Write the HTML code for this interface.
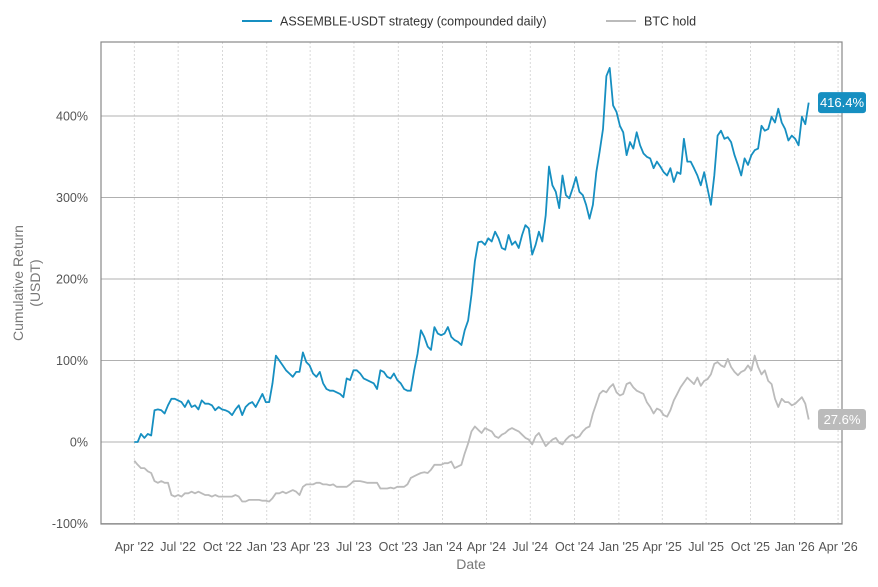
<!DOCTYPE html>
<html><head><meta charset="utf-8"><style>
body{margin:0;background:#fff;font-family:"Liberation Sans",sans-serif;}
svg text{font-family:"Liberation Sans",sans-serif;}
</style></head><body>
<svg id="c" width="878" height="582" xmlns="http://www.w3.org/2000/svg"></svg>
<script>
const tickDates=["2022-04-01","2022-07-01","2022-10-01","2023-01-01","2023-04-01","2023-07-01","2023-10-01","2024-01-01","2024-04-01","2024-07-01","2024-10-01","2025-01-01","2025-04-01","2025-07-01","2025-10-01","2026-01-01","2026-04-01"];
const tickLabels=["Apr '22","Jul '22","Oct '22","Jan '23","Apr '23","Jul '23","Oct '23","Jan '24","Apr '24","Jul '24","Oct '24","Jan '25","Apr '25","Jul '25","Oct '25","Jan '26","Apr '26"];
const yTicks=[-100,0,100,200,300,400];
const startDate="2022-04-01";
const stepDays=7;
const strategy=[0,0,10,5,10,8,39,40,39,35,45,53,53,51,49,43,51,43,45,40,51,47,47,45,39,43,40,39,37,33,40,45,33,43,47,49,43,51,59,49,49,72,106,100,94,88,84,80,86,86,110,98,94,84,80,86,72,65,63,63,61,59,55,78,76,88,88,84,78,76,74,72,65,88,86,80,78,84,76,72,65,63,63,88,108,137,129,117,113,141,133,131,133,141,129,125,123,119,
137,149,181,222,245,246,242,250,246,258,250,238,236,254,242,246,238,254,266,262,230,242,258,246,278,338,315,307,287,327,303,299,311,325,307,303,291,274,291,331,356,384,449,459,413,405,388,380,352,368,360,380,364,354,350,348,336,344,338,331,327,336,319,331,329,372,344,344,336,327,315,331,311,291,327,376,382,372,374,368,352,340,327,348,340,352,358,360,388,382,384,399,392,409,392,384,370,376,372,364,399,390,416.4];
const btc=[-23,-28,-32,-32,-36,-38,-48,-50,-48,-50,-50,-65,-67,-65,-67,-63,-63,-61,-63,-61,-63,-65,-65,-67,-65,-67,-67,-67,-67,-67,-65,-67,-73,-73,-71,-71,-71,-71,-72,-72,-73,-69,-63,-63,-61,-63,-61,-59,-61,-65,-55,-52,-52,-52,-50,-50,-52,-52,-53,-52,-55,-55,-55,-55,-52,-48,-48,-48,-49,-50,-50,-50,-50,-57,-57,-57,-56,-57,-55,-55,-55,-52,-44,-42,-40,-38,-37,-38,-34,-28,-28,-28,-26,-26,-24,-32,-30,-28,
-14,-2,13,19,15,11,17,15,13,7,5,9,11,15,17,15,13,9,5,3,-3,7,11,3,-5,-1,3,5,-1,-3,3,7,9,5,7,13,17,19,35,47,59,63,61,67,71,61,57,59,71,73,67,63,61,59,49,43,35,41,39,33,31,39,51,59,67,73,79,75,71,79,69,75,77,83,96,98,94,92,102,92,86,82,86,88,94,88,106,92,83,88,75,71,53,43,53,49,49,45,47,51,55,47,27.6];

const NS="http://www.w3.org/2000/svg";
const svg=document.getElementById('c');
const L=101,R=842,T=42,B=524;
const d0=Date.parse("2022-04-01"),x0=134.3,pxPerDay=0.4817;
function xs(ms){return x0+(ms-d0)/86400000*pxPerDay;}
function ys(v){return 442-v*0.815;}
function mk(tag,attrs,parent){const e=document.createElementNS(NS,tag);for(const k in attrs)e.setAttribute(k,attrs[k]);(parent||svg).appendChild(e);return e;}
function txt(s,attrs,parent){const e=mk('text',attrs,parent);e.textContent=s;return e;}

const grid=mk('g',{});


tickDates.forEach((d,i)=>{
  const x=xs(Date.parse(d));
  const l=mk('line',{x1:x,x2:x,y1:T,y2:B,stroke:'#cfcfcf','stroke-width':0.8,'stroke-dasharray':'2,2'},grid);
  
  
  const t=txt(tickLabels[i],{x:x,y:551,'text-anchor':'middle','font-size':12.5,fill:'#555'});
  
  
});
yTicks.forEach(v=>{
  const y=ys(v);
  const l=mk('line',{x1:L,x2:R,y1:y,y2:y,stroke:'#b0b0b0','stroke-width':0.9},grid);
  
  
  const t=txt(v+'%',{x:88,y:y+4.5,'text-anchor':'end','font-size':12.5,fill:'#555'});
  
  
});
const frame=mk('rect',{x:L,y:T,width:R-L,height:B-T,fill:'none',stroke:'#888','stroke-width':1.2});



function line(arr,color,name){
  const pts=arr.map((v,i)=>xs(d0+i*stepDays*86400000).toFixed(1)+','+ys(v).toFixed(1)).join(' ');
  const p=mk('polyline',{points:pts,fill:'none',stroke:color,'stroke-width':1.8,'stroke-linejoin':'round'});
  
  
}
line(btc,'#bbbbbb','btc-hold-line');
line(strategy,'#168fc1','strategy-line');

function badge(arr,color,name){
  const v=arr[arr.length-1];const y=ys(v);
  const g=mk('g',{});
  
  
  mk('rect',{x:818,y:y-10.5,width:48,height:21,rx:3,fill:color},g);
  txt(v.toFixed(1)+'%',{x:842,y:y+4.5,'text-anchor':'middle','font-size':13,fill:'#fff'},g);
}
badge(strategy,'#168fc1','strategy-end-label');
badge(btc,'#bbbbbb','btc-end-label');

const lg=mk('g',{});


mk('line',{x1:242,x2:272,y1:21,y2:21,stroke:'#168fc1','stroke-width':2},lg);
txt('ASSEMBLE-USDT strategy (compounded daily)',{x:280,y:25.5,'font-size':12.5,fill:'#333'},lg);
mk('line',{x1:606,x2:636,y1:21,y2:21,stroke:'#bbbbbb','stroke-width':2},lg);
txt('BTC hold',{x:644,y:25.5,'font-size':12.5,fill:'#333'},lg);

const xt=txt('Date',{x:471,y:569,'text-anchor':'middle','font-size':14,fill:'#777'});


const yt=mk('text',{transform:'translate(27,283) rotate(-90)','text-anchor':'middle','font-size':14,fill:'#777'});


const t1=mk('tspan',{x:0,dy:-4},yt);t1.textContent='Cumulative Return';
const t2=mk('tspan',{x:0,dy:17},yt);t2.textContent='(USDT)';
</script>
</body></html>
